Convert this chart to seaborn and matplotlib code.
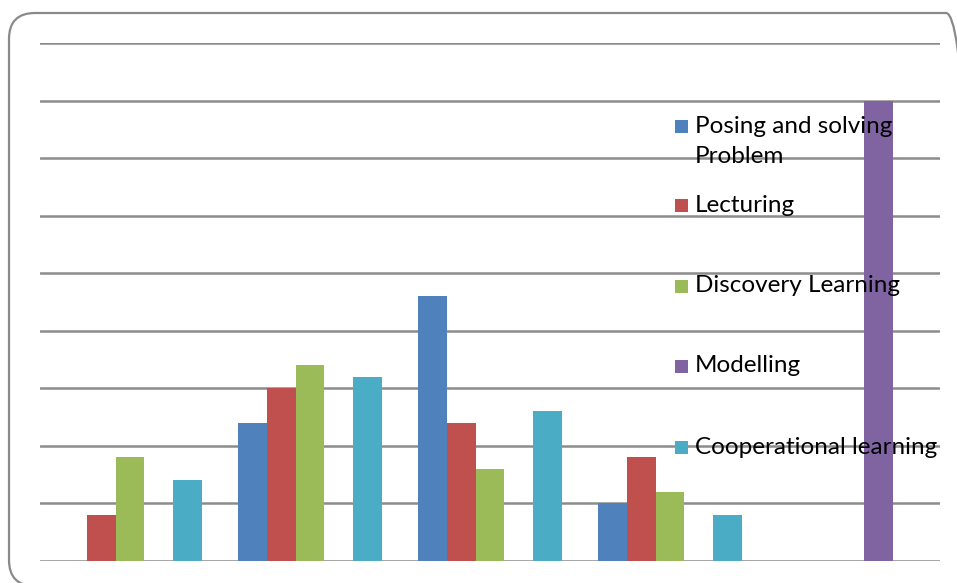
import numpy as np
import pandas as pd
import matplotlib
matplotlib.use("Agg")
import matplotlib.pyplot as plt
import matplotlib.transforms as mtransforms
import seaborn as sns
from matplotlib.patches import FancyBboxPatch, Rectangle

# Teaching methods (series) and the five groups they were counted in
groups = ["G1", "G2", "G3", "G4", "G5"]
methods = ["Posing and solving\nProblem", "Lecturing", "Discovery Learning",
           "Modelling", "Cooperational learning"]
posing = [0, 12, 23, 5, 0]
lecturing = [4, 15, 12, 9, 0]
discovery = [9, 17, 8, 6, 0]
modelling = [0, 0, 0, 0, 40]
cooperational = [7, 16, 13, 4, 0]
colors = ["#4F81BD", "#C0504D", "#9BBB59", "#8064A2", "#4BACC6"]

series = [posing, lecturing, discovery, modelling, cooperational]
df = pd.DataFrame({
    "group": np.repeat([groups], len(methods), axis=0).ravel(),
    "method": np.repeat(methods, len(groups)),
    "count": np.concatenate(series),
})

sns.set_style("white")
plt.rcParams["font.family"] = ["Lato", "DejaVu Sans"]

W, H = 957, 583
fig = plt.figure(figsize=(W / 100, H / 100), dpi=100)
ax = fig.add_axes([40 / W, (H - 561) / H, 900 / W, (561 - 43) / H])

sns.barplot(data=df, x="group", y="count", hue="method", order=groups,
            hue_order=methods, palette=colors, width=0.8, linewidth=0,
            saturation=1, ax=ax, legend=False, zorder=3)

ax.set_ylim(0, 45)
ax.set_yticks(np.arange(0, 46, 5))
ax.set_xlim(-0.5, len(groups) - 0.5)
ax.grid(axis="y", color="#8c8c8c", linewidth=1.8, zorder=0)
ax.set_axisbelow(True)
for s in ax.spines.values():
    s.set_visible(False)
ax.tick_params(left=False, bottom=False, labelleft=False, labelbottom=False)
ax.set_xlabel("")
ax.set_ylabel("")

# Rounded chart-area frame, laid out in pixel units
px = mtransforms.IdentityTransform()
frame = FancyBboxPatch((9, H - 586), 972 - 9, 586 - 13,
                       boxstyle="round,pad=0,rounding_size=26",
                       transform=px, facecolor="none",
                       edgecolor="#8a8a8a", linewidth=1.6, zorder=10)
fig.patches.append(frame)

# Legend entries laid over the plot area
entry_y = [141.5, 205, 286, 366, 447]
marker_y = [126, 205, 286, 366, 447]
for label, c, yy, my in zip(methods, colors, entry_y, marker_y):
    fig.patches.append(Rectangle((675, H - my - 7), 13, 13, transform=px,
                                 facecolor=c, edgecolor="none", zorder=11))
    fig.text(695 / W, (H - yy) / H, label, fontsize=17.5, color="black",
             va="center", ha="left", linespacing=1.5, zorder=12)

fig.savefig("out.png", dpi=100)
